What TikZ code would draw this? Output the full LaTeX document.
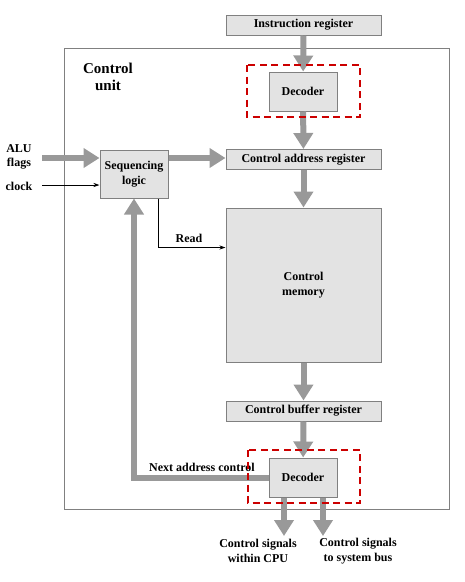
\documentclass[tikz,border=0pt]{standalone}
\usepackage{fontspec}
\setmainfont{Liberation Serif}
\usetikzlibrary{arrows.meta,positioning}

\begin{document}
\begin{tikzpicture}[
		x=1pt, y=-1pt,
		reg/.style={rectangle, draw=black!50, fill=black!11, line width=1pt, inner sep=0pt, font=\bfseries\fontsize{12}{14.5}\selectfont, align=center},
		wide/.style={reg, minimum width=155pt, minimum height=20pt},
		small/.style={reg, minimum width=68pt, minimum height=39pt},
		bigarrow/.style={-{Triangle[width=19pt,length=16pt]}, line width=6pt, draw=black!40},
		signal/.style={-{Stealth[length=6pt,width=4pt]}, line width=0.8pt},
		hilite/.style={draw=red!80!black, line width=1.8pt, dash pattern=on 7pt off 4.5pt},
		label/.style={font=\bfseries\fontsize{12}{14.5}\selectfont, align=center, inner sep=0pt}
		]
		\useasboundingbox (0,0) rectangle (464,582);

		% Control unit frame
		\draw[black!50, line width=1pt] (64,48) rectangle (449,509);
		\node[label, font=\bfseries\fontsize{15}{17}\selectfont] (cu) at (108,77) {Control\\unit};

		% Registers and memory
		\node[wide] (ir) at (303.5,25) {Instruction register};
		\node[small] (dec1) at (303,91.5) {Decoder};
		\node[wide] (car) at (303.5,159.5) {Control address register};
		\node[reg, minimum width=68pt, minimum height=48pt] (seq) at (134,174) {Sequencing\\logic};
		\node[reg, minimum width=155pt, minimum height=154pt] (mem) at (303.5,285) {Control\\memory};
		\node[wide] (cbr) at (303.5,411) {Control buffer register};
		\node[small] (dec2) at (303,477.5) {Decoder};

		% Inputs
		\node[label] (alu) at (19,157) {ALU\\flags};
		\node[label] (clk) at (19,186) {clock};
		\coordinate (aluin) at (42,158);
		\coordinate (clkin) at (42,185);

		% Outputs
		\node[label] (cpu) at (258,551) {Control signals\\within CPU};
		\node[label] (bus) at (358,551) {Control signals\\to system bus};
		\coordinate (out1) at (284,536);
		\coordinate (out2) at (323,536);

		% Main data path
		\draw[bigarrow] (ir) -- (dec1);
		\draw[bigarrow] (dec1) -- (car);
		\draw[bigarrow] (car) -- (mem);
		\draw[bigarrow] (mem) -- (cbr);
		\draw[bigarrow] (cbr) -- (dec2);

		% Sequencing
		\draw[bigarrow] (aluin) -- (aluin -| seq.west);
		\draw[signal] (clkin) -- (clkin -| seq.west);
		\draw[bigarrow] (seq.east |- 0,158) -- (car.west |- 0,158);
		\draw[signal] ([xshift=-10pt]seq.south east) |- ([yshift=-40pt]mem.north west);
		\node[label] (read) at (189,238) {Read};

		% Next address control
		\draw[bigarrow] (dec2.west) -| (seq.south);
		\node[label] (nac) at (202,467) {Next address control};

		% Control signals out
		\draw[bigarrow] (dec2.south -| out1) -- (out1);
		\draw[bigarrow] (dec2.south -| out2) -- (out2);

		% Decoder highlights
		\draw[hilite] (247,65) rectangle (360,117);
		\draw[hilite] (248,450) rectangle (360,503);

	\end{tikzpicture}
\end{document}
